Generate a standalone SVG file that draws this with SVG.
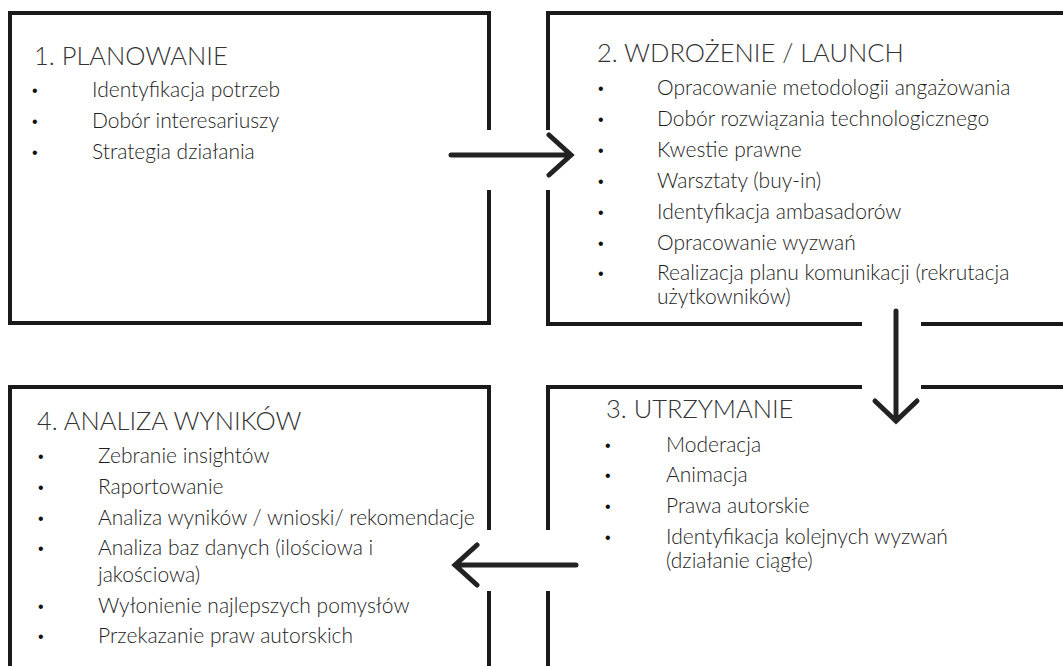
<svg xmlns="http://www.w3.org/2000/svg" width="1063" height="666" viewBox="0 0 1063 666">
<style>
.box{fill:none;stroke:#1a1a1a;stroke-width:4;stroke-linecap:butt;stroke-linejoin:miter}
.arr{fill:none;stroke:#222;stroke-width:5;stroke-linecap:round;stroke-linejoin:miter}
.t{font-family:Lato,"Liberation Sans",sans-serif;font-weight:300;font-size:25.5px;fill:#333}
.i{font-family:Lato,"Liberation Sans",sans-serif;font-weight:300;font-size:21px;fill:#1e1e1e}
.b{font-family:"Liberation Sans",sans-serif;font-size:16px;fill:#111}
</style>
<rect width="1063" height="666" fill="#fff"/>
<g id="node1">
<path class="box" d="M489,130 V13 H10 V323 H489 V190"/>
<text class="t" x="34" y="65">1. PLANOWANIE</text>
<text class="b" x="32" y="96">•</text><text class="i" x="92" y="97">Identyfikacja potrzeb</text>
<text class="b" x="32" y="127">•</text><text class="i" x="92" y="128">Dobór interesariuszy</text>
<text class="b" x="32" y="158">•</text><text class="i" x="92" y="159">Strategia działania</text>
</g>
<g id="node2">
<path class="box" d="M548,130 V13 H1070"/>
<path class="box" d="M548,190 V324 H862"/>
<path class="box" d="M921,324 H1070"/>
<text class="t" x="597" y="62">2. WDROŻENIE / LAUNCH</text>
<text class="b" x="598" y="94">•</text><text class="i" x="657" y="95">Opracowanie metodologii angażowania</text>
<text class="b" x="598" y="125">•</text><text class="i" x="657" y="126">Dobór rozwiązania technologicznego</text>
<text class="b" x="598" y="156">•</text><text class="i" x="657" y="157">Kwestie prawne</text>
<text class="b" x="598" y="187">•</text><text class="i" x="657" y="188">Warsztaty (buy-in)</text>
<text class="b" x="598" y="218">•</text><text class="i" x="657" y="219">Identyfikacja ambasadorów</text>
<text class="b" x="598" y="249">•</text><text class="i" x="657" y="250">Opracowanie wyzwań</text>
<text class="b" x="598" y="279">•</text><text class="i" x="657" y="280">Realizacja planu komunikacji (rekrutacja</text>
<text class="i" x="657" y="304">użytkowników)</text>
</g>
<g id="node3">
<path class="box" d="M548,530 V387 H862"/>
<path class="box" d="M921,387 H1070"/>
<path class="box" d="M548,591 V670"/>
<text class="t" x="606" y="418">3. UTRZYMANIE</text>
<text class="b" x="605" y="451">•</text><text class="i" x="666" y="452">Moderacja</text>
<text class="b" x="605" y="481">•</text><text class="i" x="666" y="482">Animacja</text>
<text class="b" x="605" y="512">•</text><text class="i" x="666" y="513">Prawa autorskie</text>
<text class="b" x="605" y="543">•</text><text class="i" x="666" y="544">Identyfikacja kolejnych wyzwań</text>
<text class="i" x="666" y="568">(działanie ciągłe)</text>
</g>
<g id="node4">
<path class="box" d="M489,530 V387 H10 V670"/>
<path class="box" d="M489,591 V670"/>
<text class="t" x="37" y="430">4. ANALIZA WYNIKÓW</text>
<text class="b" x="38" y="462">•</text><text class="i" x="98" y="463">Zebranie insightów</text>
<text class="b" x="38" y="493">•</text><text class="i" x="98" y="494">Raportowanie</text>
<text class="b" x="38" y="524">•</text><text class="i" x="98" y="525">Analiza wyników / wnioski/ rekomendacje</text>
<text class="b" x="38" y="554">•</text><text class="i" x="98" y="555">Analiza baz danych (ilościowa i</text>
<text class="i" x="98" y="582">jakościowa)</text>
<text class="b" x="38" y="612">•</text><text class="i" x="98" y="613">Wyłonienie najlepszych pomysłów</text>
<text class="b" x="38" y="642">•</text><text class="i" x="98" y="643">Przekazanie praw autorskich</text>
</g>
<g id="connectors">
<path class="arr" d="M451,155 H570 M549,135 L571,155 L549,175"/>
<path class="arr" d="M896,311 V420 M875,401 L896,421 L917,401"/>
<path class="arr" d="M576,565 H455 M477,545 L455,565 L477,585"/>
</g>
</svg>
